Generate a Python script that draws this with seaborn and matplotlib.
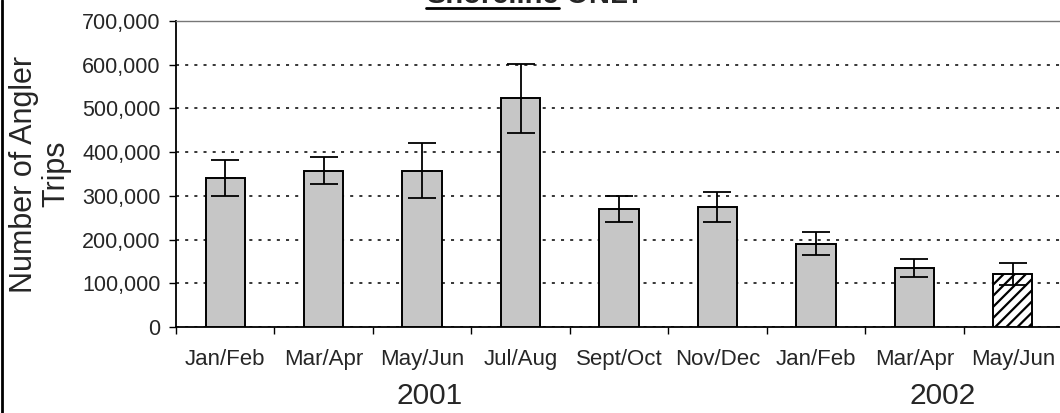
import matplotlib
matplotlib.use('Agg')
import matplotlib.pyplot as plt
import matplotlib.ticker as mticker
from matplotlib.lines import Line2D
import seaborn as sns

# data
periods = ['Jan/Feb', 'Mar/Apr', 'May/Jun', 'Jul/Aug', 'Sept/Oct', 'Nov/Dec',
           'Jan/Feb', 'Mar/Apr', 'May/Jun']
years = ['2001'] * 6 + ['2002'] * 3
trips = [341000, 358000, 358000, 523000, 270000, 274000, 191000, 135000, 121000]
errors = [41000, 30000, 64000, 79000, 30000, 34000, 26000, 21000, 26000]
year_labels = ['2001', '2002']
year_label_pos = [2.08, 7.29]

keys = [p + ' ' + y for p, y in zip(periods, years)]
bar_colors = ['#c6c6c6'] * 8 + ['white']

sns.set_style('white')
plt.rcParams['font.family'] = ['Liberation Sans', 'DejaVu Sans']
plt.rcParams['hatch.linewidth'] = 1.6

W, H = 1060, 413
fig = plt.figure(figsize=(W / 100, H / 100), dpi=100)
ax = fig.add_axes([176 / W, (H - 327) / H, (1062 - 176) / W, (327 - 21) / H])

sns.barplot(x=keys, y=trips, hue=keys, palette=bar_colors, width=0.4,
            edgecolor='black', linewidth=1.4, saturation=1, legend=False,
            ax=ax, zorder=3)
ax.patches[-1].set_hatch('///')

ax.errorbar(range(len(trips)), trips, yerr=errors, fmt='none', ecolor='black',
            elinewidth=1.3, capsize=10, capthick=1.3, zorder=4)

ax.set_ylim(0, 700000)
ax.set_xlim(-0.5, len(trips) - 0.5)
ax.yaxis.set_major_locator(mticker.MultipleLocator(100000))
ax.yaxis.set_major_formatter(mticker.FuncFormatter(lambda v, p: f'{int(v):,}'))
ax.yaxis.grid(True, color='black', linestyle=(0, (2, 4)), linewidth=1.1, zorder=0)

ax.set_xticks(range(len(periods)))
ax.set_xticklabels(periods)
ax.set_xticks([i - 0.5 for i in range(len(periods) + 1)], minor=True)
ax.tick_params(axis='x', which='major', length=0, pad=16, labelsize=16)
ax.tick_params(axis='x', which='minor', length=5, width=1, color='black',
               direction='out', bottom=True)
ax.tick_params(axis='y', length=5, width=1, color='black', direction='out',
               left=True, pad=6, labelsize=15.5)

for s in ['left', 'bottom']:
    ax.spines[s].set_color('black')
    ax.spines[s].set_linewidth(1.3)
ax.spines['top'].set_color('#777777')
ax.spines['top'].set_linewidth(1.0)
ax.spines['right'].set_visible(False)

ax.set_xlabel('')
ax.set_ylabel('Number of Angler\nTrips', fontsize=22, labelpad=8, linespacing=1.1)

for lab, xp in zip(year_labels, year_label_pos):
    ax.text(xp, -0.252, lab, transform=ax.get_xaxis_transform(), ha='center',
            va='baseline', fontsize=21.5)

# title, mostly cut off by the top edge as in the reference
t1 = fig.text(426 / W, 1 - 3 / H, 'Shoreline', fontsize=21, fontweight='bold',
              ha='left', va='baseline')
fig.canvas.draw()
bb = t1.get_window_extent()
fig.text(bb.x1 / W, 1 - 3 / H, ' ONLY', fontsize=21, fontweight='bold',
         ha='left', va='baseline')
fig.add_artist(Line2D([bb.x0 / W, bb.x1 / W], [1 - 8 / H, 1 - 8 / H],
                      color='black', linewidth=2, transform=fig.transFigure))

# left page border
fig.add_artist(Line2D([2 / W, 2 / W], [0, 1], color='black', linewidth=2,
                      transform=fig.transFigure))

fig.savefig('out.png', dpi=100)
